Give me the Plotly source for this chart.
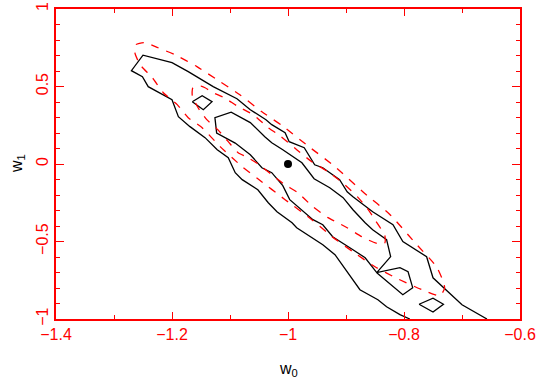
import plotly.graph_objects as go

# ---- data (w0, w1) ----
# black outer contour (open at bottom axis)
b_outer_w0 = [-0.790, -0.807, -0.830, -0.845, -0.876, -0.897, -0.919, -0.940, -0.985, -0.993,
              -1.019, -1.034, -1.052, -1.079, -1.091, -1.103, -1.122, -1.143, -1.169, -1.189,
              -1.200, -1.241, -1.251, -1.270,
              -1.250, -1.200, -1.172, -1.129, -1.088, -1.065, -1.038, -1.028, -1.005, -0.998,
              -0.972, -0.954, -0.940, -0.911, -0.898, -0.888, -0.854, -0.819, -0.802, -0.761,
              -0.750, -0.700, -0.657]
b_outer_w1 = [-1.000, -0.972, -0.921, -0.876, -0.811, -0.701, -0.585, -0.521, -0.411, -0.379,
              -0.308, -0.250, -0.166, -0.101, -0.056, 0.041, 0.092, 0.170, 0.241, 0.305,
              0.415, 0.499, 0.563, 0.602,
              0.702, 0.654, 0.596, 0.499, 0.421, 0.350, 0.286, 0.254, 0.202, 0.144,
              0.105, -0.005, -0.024, -0.101, -0.179, -0.211, -0.308, -0.392, -0.501, -0.598,
              -0.734, -0.908, -1.000]

# black inner contour
b_inner_w0 = [-0.847, -0.823, -0.830, -0.854, -0.867, -0.888, -0.905, -0.928, -0.955, -0.976,
              -1.009, -1.028, -1.040, -1.065, -1.098, -1.126, -1.123, -1.091, -1.065, -1.052,
              -1.045, -1.028, -1.009, -0.997, -0.976, -0.957, -0.940, -0.923, -0.888, -0.867,
              -0.847, -0.807, -0.793, -0.785, -0.802, -0.847]
b_inner_w1 = [-0.701, -0.598, -0.488, -0.424, -0.379, -0.295, -0.217, -0.153, -0.095, 0.008,
              0.092, 0.137, 0.176, 0.267, 0.334, 0.299, 0.200, 0.135, 0.060, 0.008,
              -0.024, -0.056, -0.140, -0.230, -0.301, -0.359, -0.392, -0.469, -0.553, -0.605,
              -0.701, -0.669, -0.695, -0.798, -0.843, -0.701]

# small black islands
island1_w0 = [-1.165, -1.148, -1.131, -1.146, -1.165]
island1_w1 = [0.402, 0.441, 0.402, 0.350, 0.402]
island2_w0 = [-0.774, -0.750, -0.732, -0.750, -0.774]
island2_w1 = [-0.905, -0.866, -0.905, -0.955, -0.905]

# red dashed outer contour
r_outer_w0 = [-1.264, -1.262, -1.248, -1.224, -1.195, -1.157, -1.117, -1.083, -1.045, -1.010,
              -0.964, -0.919, -0.871, -0.824, -0.781, -0.743, -0.730, -0.738, -0.769, -0.811,
              -0.850, -0.888, -0.924, -0.959, -1.005, -1.052, -1.079, -1.117, -1.148, -1.172,
              -1.191, -1.215, -1.234, -1.255, -1.264]
r_outer_w1 = [0.718, 0.770, 0.783, 0.750, 0.705, 0.628, 0.531, 0.447, 0.337, 0.247,
              0.112, -0.017, -0.179, -0.327, -0.508, -0.669, -0.798, -0.850, -0.811, -0.740,
              -0.663, -0.566, -0.469, -0.359, -0.230, -0.095, -0.017, 0.112, 0.234, 0.299,
              0.383, 0.460, 0.557, 0.641, 0.718]

# red dashed inner contour
r_inner_w0 = [-1.164, -1.150, -1.143, -1.129, -1.110, -1.086, -1.060, -1.034, -1.014, -0.985,
              -0.959, -0.931, -0.902, -0.879, -0.864, -0.849, -0.833, -0.833, -0.845, -0.873,
              -0.898, -0.914, -0.931, -0.959, -0.983, -1.005, -1.028, -1.052, -1.072, -1.086,
              -1.103, -1.121, -1.140, -1.155, -1.165, -1.164]
r_inner_w1 = [0.492, 0.502, 0.492, 0.460, 0.428, 0.370, 0.318, 0.234, 0.183, 0.092,
              0.015, -0.050, -0.134, -0.217, -0.282, -0.366, -0.463, -0.508, -0.514, -0.469,
              -0.411, -0.379, -0.346, -0.269, -0.185, -0.134, -0.069, 0.002, 0.047, 0.073,
              0.144, 0.221, 0.286, 0.363, 0.441, 0.492]

# fiducial point
point_w0 = [-1.0]
point_w1 = [0.0]

x_title = "w<sub>0</sub>"
y_title = "w<sub>1</sub>"

RED = "#ff0000"
FONT = "Liberation Sans"

fig = go.Figure()

blk = dict(color="black", width=1.3)
for xs, ys in [(b_outer_w0, b_outer_w1), (b_inner_w0, b_inner_w1),
               (island1_w0, island1_w1), (island2_w0, island2_w1)]:
    fig.add_trace(go.Scatter(x=xs, y=ys, mode="lines", line=blk,
                             hoverinfo="skip", showlegend=False))

red = dict(color=RED, width=1.3, dash="8px,8px", shape="spline", smoothing=0.6)
for xs, ys in [(r_outer_w0, r_outer_w1), (r_inner_w0, r_inner_w1)]:
    fig.add_trace(go.Scatter(x=xs, y=ys, mode="lines", line=red,
                             hoverinfo="skip", showlegend=False))

fig.add_trace(go.Scatter(x=point_w0, y=point_w1, mode="markers",
                         marker=dict(color="black", size=8),
                         hoverinfo="skip", showlegend=False))

fig.update_layout(
    width=543, height=385,
    margin=dict(l=56, r=23, t=9, b=66),
    paper_bgcolor="white", plot_bgcolor="white",
    font=dict(family=FONT, size=16, color="black"),
    xaxis=dict(
        range=[-1.4, -0.6], dtick=0.2, tick0=-1.4, automargin=False,
        showgrid=False, zeroline=False, ticklabeloverflow="allow",
        showline=True, linecolor=RED, linewidth=1.5, mirror="ticks",
        ticks="inside", ticklen=7, tickwidth=1.2, tickcolor=RED,
        tickfont=dict(family=FONT, size=16, color=RED),
        minor=dict(dtick=0.1, ticks="inside", ticklen=4, tickwidth=1.2, tickcolor=RED, showgrid=False),
    ),
    yaxis=dict(
        range=[-1, 1], dtick=0.5, tick0=-1, automargin=False,
        showgrid=False, zeroline=False, ticklabeloverflow="allow",
        showline=True, linecolor=RED, linewidth=1.5, mirror="ticks",
        ticks="inside", ticklen=8, tickwidth=1.2, tickcolor=RED,
        tickangle=-90,
        tickfont=dict(family=FONT, size=16, color=RED),
        minor=dict(dtick=0.1, ticks="inside", ticklen=4, tickwidth=1.2, tickcolor=RED, showgrid=False),
    ),
    annotations=[
        dict(text=x_title, xref="paper", yref="paper", x=0.5, y=0,
             xanchor="center", yanchor="middle", yshift=-50, showarrow=False,
             font=dict(family=FONT, size=16, color="black")),
        dict(text=y_title, xref="paper", yref="paper", x=0, y=0.5,
             xanchor="center", yanchor="middle", xshift=-39, textangle=-90, showarrow=False,
             font=dict(family=FONT, size=16, color="black")),
    ],
)

# remove the browser's default 8px body margin so the figure sits at the window origin
fig.write_html("out.html", config={"displayModeBar": False},
               post_script="document.body.style.margin='0px';")
